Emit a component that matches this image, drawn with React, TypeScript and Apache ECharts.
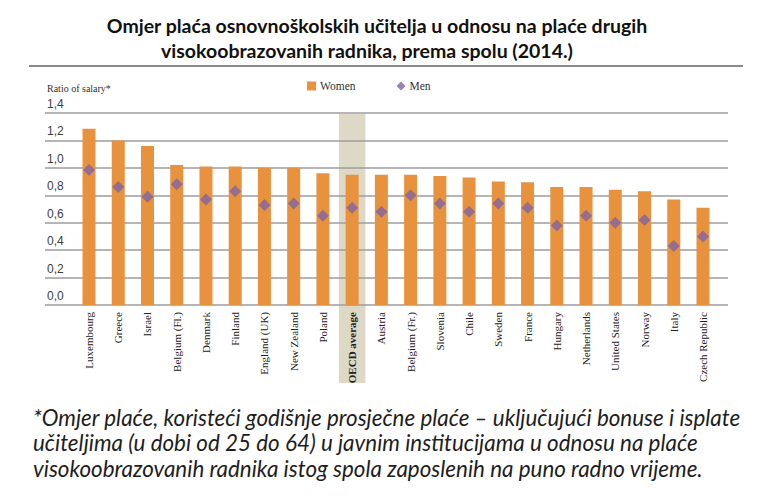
import React, { useEffect, useRef } from 'react';
import * as echarts from 'echarts';

const categories = [
  'Luxembourg', 'Greece', 'Israel', 'Belgium (Fl.)', 'Denmark', 'Finland', 'England (UK)',
  'New Zealand', 'Poland', 'OECD average', 'Austria', 'Belgium (Fr.)', 'Slovenia', 'Chile',
  'Sweden', 'France', 'Hungary', 'Netherlands', 'United States', 'Norway', 'Italy', 'Czech Republic',
];
const womenValues = [1.285, 1.2, 1.16, 1.02, 1.01, 1.01, 1.0, 1.0, 0.96, 0.95, 0.95, 0.95, 0.94, 0.93, 0.9, 0.895, 0.86, 0.86, 0.84, 0.83, 0.77, 0.71];
const menValues = [0.985, 0.86, 0.79, 0.88, 0.77, 0.83, 0.73, 0.74, 0.65, 0.71, 0.68, 0.8, 0.74, 0.68, 0.74, 0.71, 0.58, 0.65, 0.6, 0.62, 0.43, 0.5];
const highlightCategory = 'OECD average';
const yMin = 0;
const yMax = 1.4;
const yStep = 0.2;
const seriesNames = ['Women', 'Men'];
const axisTitle = 'Ratio of salary*';
const titleLines = [
  'Omjer plaća osnovnoškolskih učitelja u odnosu na plaće drugih',
  'visokoobrazovanih radnika, prema spolu (2014.)',
];
const footnoteLines = [
  '*Omjer plaće, koristeći godišnje prosječne plaće – uključujući bonuse i isplate',
  'učiteljima (u dobi od 25 do 64) u javnim institucijama u odnosu na plaće',
  'visokoobrazovanih radnika istog spola zaposlenih na puno radno vrijeme.',
];

export default function App() {
  const ref = useRef<HTMLDivElement>(null);
  useEffect(() => {
    document.body.style.margin = '0';
    const chart = echarts.init(ref.current as HTMLDivElement, null, { renderer: 'svg' });
    const serif = 'Liberation Serif';
    const option: any = {
      animation: false,
      backgroundColor: '#ffffff',
      legend: {
        left: 302,
        top: 75,
        itemWidth: 9,
        itemHeight: 9,
        itemGap: 41,
        textStyle: { fontFamily: serif, fontSize: 11.5, color: '#333', padding: [0, 0, 0, -1] },
        data: [
          { name: seriesNames[0], icon: 'rect' },
          { name: seriesNames[1], icon: 'diamond', itemStyle: { color: '#8064A2' } },
        ],
      },
      grid: [
        { left: 74.4, right: 52.4, top: 113, bottom: 196 },
        { left: 45, right: 42, top: 113, bottom: 196 },
      ],
      xAxis: [
        {
          type: 'category',
          gridIndex: 0,
          data: categories,
          axisLine: { show: false },
          axisTick: { show: false },
          axisLabel: {
            rotate: 90,
            margin: 7,
            interval: 0,
            fontFamily: serif,
            fontSize: 11,
            color: '#222',
            formatter: (v: string) => (v === highlightCategory ? '{b|' + v + '}' : v),
            rich: { b: { fontFamily: serif, fontSize: 11, fontWeight: 'bold', color: '#222' } },
          },
        },
        { type: 'value', gridIndex: 1, min: 0, max: 1, show: false },
      ],
      yAxis: [
        { type: 'value', gridIndex: 0, min: yMin, max: yMax, interval: yStep, show: false },
        {
          type: 'value',
          gridIndex: 1,
          min: yMin,
          max: yMax,
          interval: yStep,
          axisLine: { show: false },
          axisTick: { show: false },
          splitLine: { show: true, lineStyle: { color: '#9c9c9c', width: 1.5 } },
          axisLabel: {
            inside: true,
            margin: 2,
            verticalAlign: 'bottom',
            padding: [0, 0, 3, 0],
            fontFamily: 'Liberation Sans',
            fontSize: 12,
            color: '#404040',
            formatter: (v: number) => v.toFixed(1).replace('.', ','),
          },
        },
      ],
      series: [
        {
          name: seriesNames[0],
          type: 'bar',
          xAxisIndex: 0,
          yAxisIndex: 0,
          data: womenValues,
          barWidth: 13,
          itemStyle: { color: '#E8923E' },
          z: 2,
        },
        {
          name: seriesNames[1],
          type: 'scatter',
          xAxisIndex: 0,
          yAxisIndex: 0,
          data: menValues,
          symbol: 'diamond',
          symbolSize: 12,
          itemStyle: { color: '#8064A2' },
          z: 3,
        },
      ],
    };
    chart.setOption(option);

    const cx = chart.convertToPixel({ xAxisIndex: 0 }, highlightCategory) as number;
    const yTop = chart.convertToPixel({ yAxisIndex: 0 }, yMax) as number;
    const bandW = 26.5;
    chart.setOption({
      graphic: {
        elements: [
          {
            type: 'rect',
            z: -1,
            silent: true,
            shape: { x: cx - bandW / 2, y: yTop + 1, width: bandW, height: 383 - yTop - 1 },
            style: { fill: '#DDD9C6' },
          },
          {
            type: 'line',
            shape: { x1: 29, y1: 66, x2: 743, y2: 66 },
            style: { stroke: '#8a8a8a', lineWidth: 2 },
          },
          {
            type: 'text',
            x: 377,
            y: 25,
            style: {
              text: titleLines[0],
              font: 'bold 19.5px Lato',
              fill: '#111',
              align: 'center',
              verticalAlign: 'middle',
            },
          },
          {
            type: 'text',
            x: 367,
            y: 50,
            style: {
              text: titleLines[1],
              font: 'bold 19.5px Lato',
              fill: '#111',
              align: 'center',
              verticalAlign: 'middle',
            },
          },
          {
            type: 'text',
            x: 47,
            y: 88,
            style: {
              text: axisTitle,
              font: '10px "Liberation Serif"',
              fill: '#333',
              align: 'left',
              verticalAlign: 'middle',
            },
          },
          ...footnoteLines.map((t, i) => ({
            type: 'text',
            x: 33,
            y: 417 + i * 25.5,
            style: {
              text: t,
              font: 'italic 22.4px Lato',
              fill: '#1e1e1e',
              align: 'left',
              verticalAlign: 'middle',
            },
          })),
        ],
      },
    });
    return () => chart.dispose();
  }, []);
  return <div ref={ref} style={{ width: 770, height: 501 }} />;
}
